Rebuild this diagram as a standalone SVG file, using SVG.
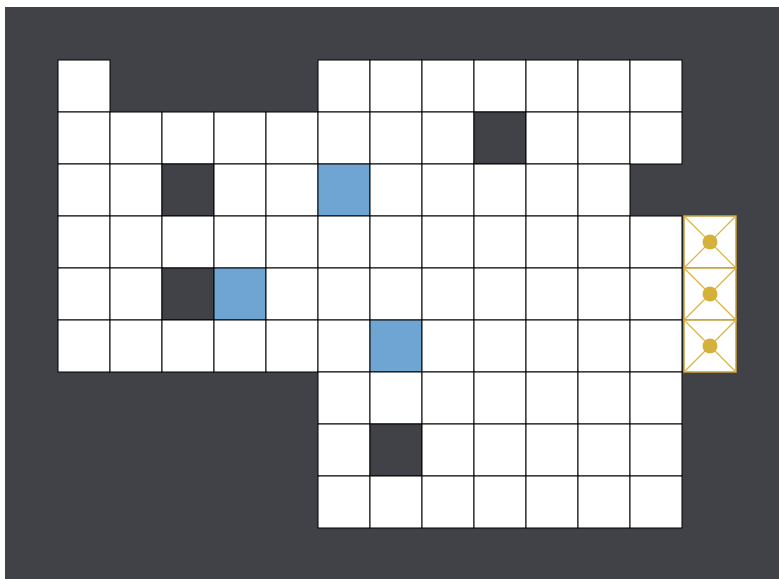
<svg xmlns="http://www.w3.org/2000/svg" xmlns:xlink="http://www.w3.org/1999/xlink" width="779" height="579" viewBox="0 0 779 579">
<style>
.c{fill:#ffffff;stroke:#000000;stroke-width:1}
.o{fill:#414247;stroke:#000000;stroke-width:1}
.b{fill:#6fa5d3;stroke:#000000;stroke-width:1}
.g{fill:#ffffff;stroke:#c4a03c;stroke-width:1.5}
.d{stroke:#dcb440;stroke-width:1.2}
.dot{fill:#d5b03a}
</style>
<defs>
<rect id="cell" class="c" width="52" height="52"/>
<rect id="obs" class="o" width="52" height="52"/>
<rect id="blue" class="b" width="52" height="52"/>
<g id="goal">
<rect class="g" x="0" y="0" width="52" height="52"/>
<line class="d" x1="0" y1="0" x2="52" y2="52"/>
<line class="d" x1="52" y1="0" x2="0" y2="52"/>
<circle class="dot" cx="26" cy="26" r="7.5"/>
</g>
</defs>
<rect x="5" y="7" width="774" height="572" fill="#414247"/>
<g id="row0">
<use xlink:href="#cell" x="58" y="60"/>
<use xlink:href="#cell" x="318" y="60"/><use xlink:href="#cell" x="370" y="60"/><use xlink:href="#cell" x="422" y="60"/><use xlink:href="#cell" x="474" y="60"/><use xlink:href="#cell" x="526" y="60"/><use xlink:href="#cell" x="578" y="60"/><use xlink:href="#cell" x="630" y="60"/>
</g>
<g id="row1">
<use xlink:href="#cell" x="58" y="112"/><use xlink:href="#cell" x="110" y="112"/><use xlink:href="#cell" x="162" y="112"/><use xlink:href="#cell" x="214" y="112"/><use xlink:href="#cell" x="266" y="112"/><use xlink:href="#cell" x="318" y="112"/><use xlink:href="#cell" x="370" y="112"/><use xlink:href="#cell" x="422" y="112"/><use xlink:href="#obs" x="474" y="112"/><use xlink:href="#cell" x="526" y="112"/><use xlink:href="#cell" x="578" y="112"/><use xlink:href="#cell" x="630" y="112"/>
</g>
<g id="row2">
<use xlink:href="#cell" x="58" y="164"/><use xlink:href="#cell" x="110" y="164"/><use xlink:href="#obs" x="162" y="164"/><use xlink:href="#cell" x="214" y="164"/><use xlink:href="#cell" x="266" y="164"/><use xlink:href="#blue" x="318" y="164"/><use xlink:href="#cell" x="370" y="164"/><use xlink:href="#cell" x="422" y="164"/><use xlink:href="#cell" x="474" y="164"/><use xlink:href="#cell" x="526" y="164"/><use xlink:href="#cell" x="578" y="164"/>
</g>
<g id="row3">
<use xlink:href="#cell" x="58" y="216"/><use xlink:href="#cell" x="110" y="216"/><use xlink:href="#cell" x="162" y="216"/><use xlink:href="#cell" x="214" y="216"/><use xlink:href="#cell" x="266" y="216"/><use xlink:href="#cell" x="318" y="216"/><use xlink:href="#cell" x="370" y="216"/><use xlink:href="#cell" x="422" y="216"/><use xlink:href="#cell" x="474" y="216"/><use xlink:href="#cell" x="526" y="216"/><use xlink:href="#cell" x="578" y="216"/><use xlink:href="#cell" x="630" y="216"/>
</g>
<g id="row4">
<use xlink:href="#cell" x="58" y="268"/><use xlink:href="#cell" x="110" y="268"/><use xlink:href="#obs" x="162" y="268"/><use xlink:href="#blue" x="214" y="268"/><use xlink:href="#cell" x="266" y="268"/><use xlink:href="#cell" x="318" y="268"/><use xlink:href="#cell" x="370" y="268"/><use xlink:href="#cell" x="422" y="268"/><use xlink:href="#cell" x="474" y="268"/><use xlink:href="#cell" x="526" y="268"/><use xlink:href="#cell" x="578" y="268"/><use xlink:href="#cell" x="630" y="268"/>
</g>
<g id="row5">
<use xlink:href="#cell" x="58" y="320"/><use xlink:href="#cell" x="110" y="320"/><use xlink:href="#cell" x="162" y="320"/><use xlink:href="#cell" x="214" y="320"/><use xlink:href="#cell" x="266" y="320"/><use xlink:href="#cell" x="318" y="320"/><use xlink:href="#blue" x="370" y="320"/><use xlink:href="#cell" x="422" y="320"/><use xlink:href="#cell" x="474" y="320"/><use xlink:href="#cell" x="526" y="320"/><use xlink:href="#cell" x="578" y="320"/><use xlink:href="#cell" x="630" y="320"/>
</g>
<g id="row6">
<use xlink:href="#cell" x="318" y="372"/><use xlink:href="#cell" x="370" y="372"/><use xlink:href="#cell" x="422" y="372"/><use xlink:href="#cell" x="474" y="372"/><use xlink:href="#cell" x="526" y="372"/><use xlink:href="#cell" x="578" y="372"/><use xlink:href="#cell" x="630" y="372"/>
</g>
<g id="row7">
<use xlink:href="#cell" x="318" y="424"/><use xlink:href="#obs" x="370" y="424"/><use xlink:href="#cell" x="422" y="424"/><use xlink:href="#cell" x="474" y="424"/><use xlink:href="#cell" x="526" y="424"/><use xlink:href="#cell" x="578" y="424"/><use xlink:href="#cell" x="630" y="424"/>
</g>
<g id="row8">
<use xlink:href="#cell" x="318" y="476"/><use xlink:href="#cell" x="370" y="476"/><use xlink:href="#cell" x="422" y="476"/><use xlink:href="#cell" x="474" y="476"/><use xlink:href="#cell" x="526" y="476"/><use xlink:href="#cell" x="578" y="476"/><use xlink:href="#cell" x="630" y="476"/>
</g>
<g id="goals">
<use xlink:href="#goal" x="684" y="216"/>
<use xlink:href="#goal" x="684" y="268"/>
<use xlink:href="#goal" x="684" y="320"/>
</g>
<g id="connectors"/>
</svg>
